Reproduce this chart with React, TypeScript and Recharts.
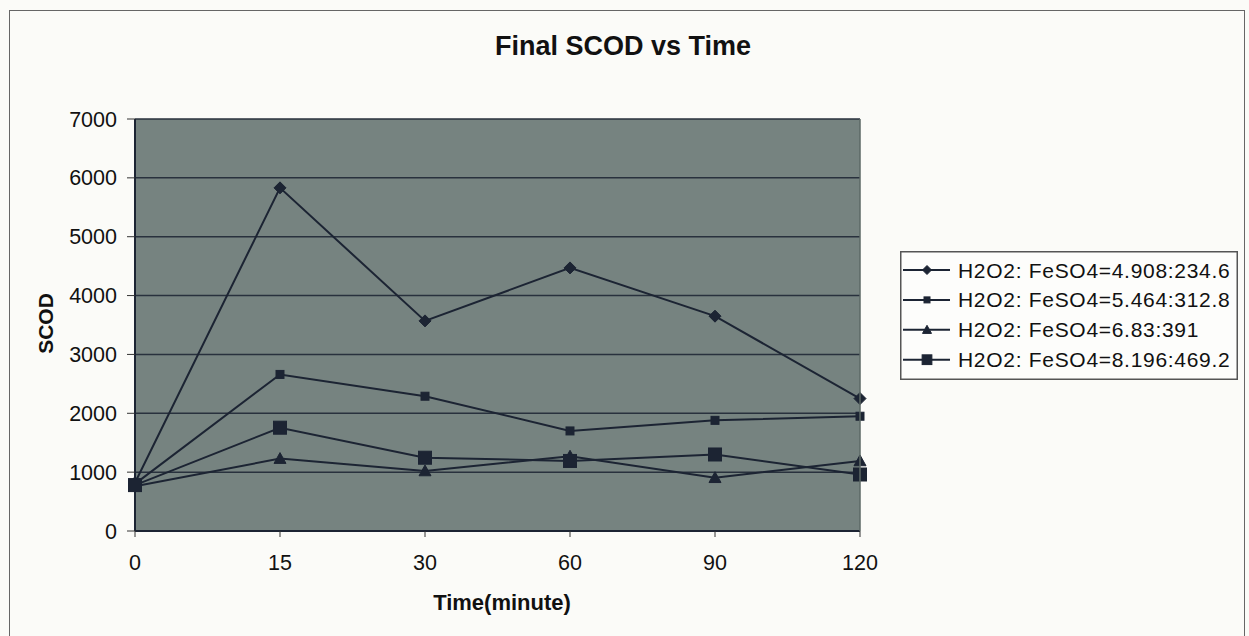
import React from 'react';
import { LineChart, Line, XAxis, YAxis, CartesianGrid, Legend } from 'recharts';

const times = ['0', '15', '30', '60', '90', '120'];
const seriesA = [820, 5830, 3570, 4470, 3650, 2250];
const seriesB = [800, 2660, 2290, 1700, 1880, 1950];
const seriesC = [760, 1230, 1020, 1270, 905, 1190];
const seriesD = [780, 1755, 1245, 1190, 1300, 960];
const yTicks = [0, 1000, 2000, 3000, 4000, 5000, 6000, 7000];
const seriesNames = [
  'H2O2: FeSO4=4.908:234.6',
  'H2O2: FeSO4=5.464:312.8',
  'H2O2: FeSO4=6.83:391',
  'H2O2: FeSO4=8.196:469.2',
];
const seriesKeys = ['a', 'b', 'c', 'd'];
const markerKinds = ['diamond', 'square', 'triangle', 'bigsquare'];

const data = times.map((t, i) => ({
  t,
  a: seriesA[i],
  b: seriesB[i],
  c: seriesC[i],
  d: seriesD[i],
}));

const W = 1249;
const H = 636;
const INK = '#1c2433';
const FONT = '"Liberation Sans", Arial, sans-serif';

function marker(kind: string, cx: number, cy: number, s: number, key?: string) {
  if (kind === 'diamond') {
    const r = 6 * s;
    return (
      <polygon key={key} points={`${cx},${cy - r} ${cx + r},${cy} ${cx},${cy + r} ${cx - r},${cy}`} fill={INK} stroke={INK} />
    );
  }
  if (kind === 'square') {
    const r = 4 * s;
    return <rect key={key} x={cx - r} y={cy - r} width={2 * r} height={2 * r} fill={INK} stroke={INK} />;
  }
  if (kind === 'triangle') {
    const r = 6 * s;
    return (
      <polygon key={key} points={`${cx},${cy - r} ${cx + r},${cy + r * 0.8} ${cx - r},${cy + r * 0.8}`} fill={INK} stroke={INK} />
    );
  }
  const r = 6.5 * s;
  return <rect key={key} x={cx - r} y={cy - r} width={2 * r} height={2 * r} fill={INK} stroke={INK} />;
}

const makeDot = (kind: string) => (props: any) => {
  const { cx, cy, index } = props;
  if (cx == null || cy == null) return <g key={`${kind}-${index}`} />;
  return <g key={`${kind}-${index}`}>{marker(kind, cx, cy, 1)}</g>;
};

const LegendBox = () => (
  <svg width={338} height={129} style={{ display: 'block' }}>
    <rect x={0.75} y={0.75} width={336.5} height={127.5} fill="#fdfdfb" stroke="#555" strokeWidth={1.5} />
    {seriesNames.map((name, i) => {
      const base = 26.5 + i * 29.9;
      const cy = base - 7.5;
      return (
        <g key={name}>
          <line x1={3} x2={50} y1={cy} y2={cy} stroke={INK} strokeWidth={2} />
          {marker(markerKinds[i], 27, cy, 0.75)}
          <text x={58} y={base} fontSize={21} letterSpacing={0.7} fill="#111" fontFamily={FONT}>
            {name}
          </text>
        </g>
      );
    })}
  </svg>
);

export default function App() {
  return (
    <div
      style={{
        position: 'fixed',
        left: 0,
        top: 0,
        width: W,
        height: H,
        background: '#fbfbf8',
        overflow: 'hidden',
        fontFamily: FONT,
      }}
    >
      <div
        style={{
          position: 'absolute',
          left: 9,
          top: 10,
          width: 1236,
          height: 700,
          border: '1.5px solid #666',
          boxSizing: 'border-box',
        }}
      />
      <div style={{ position: 'absolute', left: 0, top: 0 }}>
        <LineChart width={W} height={H} data={data} margin={{ top: 119, right: 389, bottom: 65, left: 55 }}>
          <CartesianGrid
            vertical={false}
            stroke="#28313d"
            strokeWidth={1.5}
            fill="#768380"
            fillOpacity={1}
          />
          <XAxis
            dataKey="t"
            interval={0}
            height={40}
            tickSize={6}
            tickMargin={18}
            axisLine={{ stroke: INK, strokeWidth: 2 }}
            tickLine={{ stroke: '#333', strokeWidth: 1 }}
            tick={{ fill: '#111', fontSize: 21.5, fontFamily: FONT }}
          />
          <YAxis
            domain={[0, 7000]}
            ticks={yTicks}
            interval={0}
            width={80}
            tickSize={8}
            tickMargin={10}
            axisLine={{ stroke: INK, strokeWidth: 2 }}
            tickLine={{ stroke: '#333', strokeWidth: 1 }}
            tick={{ fill: '#111', fontSize: 21.5, fontFamily: FONT }}
          />
          {seriesKeys.map((k, i) => (
            <Line
              key={k}
              dataKey={k}
              name={seriesNames[i]}
              stroke={INK}
              strokeWidth={2}
              isAnimationActive={false}
              dot={makeDot(markerKinds[i])}
              activeDot={false}
            />
          ))}
          <Legend
            layout="vertical"
            align="center"
            verticalAlign="middle"
            content={() => <LegendBox />}
            wrapperStyle={{ left: 900, top: 251, width: 338, height: 129, margin: 0, padding: 0 }}
          />
        </LineChart>
      </div>
      <svg
        width={W}
        height={H}
        style={{ position: 'absolute', left: 0, top: 0, pointerEvents: 'none' }}
      >
        <line x1={860} x2={860} y1={119} y2={531} stroke="#5d6866" strokeWidth={1.5} />
        <text x={623} y={55} textAnchor="middle" fontSize={27} fontWeight="bold" fill="#111" fontFamily={FONT}>
          Final SCOD vs Time
        </text>
        <text x={502} y={610} textAnchor="middle" fontSize={22} fontWeight="bold" fill="#111" fontFamily={FONT}>
          Time(minute)
        </text>
        <text
          x={52.5}
          y={323.5}
          textAnchor="middle"
          fontSize={21}
          fontWeight="bold"
          fill="#111"
          fontFamily={FONT}
          transform="rotate(-90 52.5 323.5)"
        >
          SCOD
        </text>
      </svg>
    </div>
  );
}
